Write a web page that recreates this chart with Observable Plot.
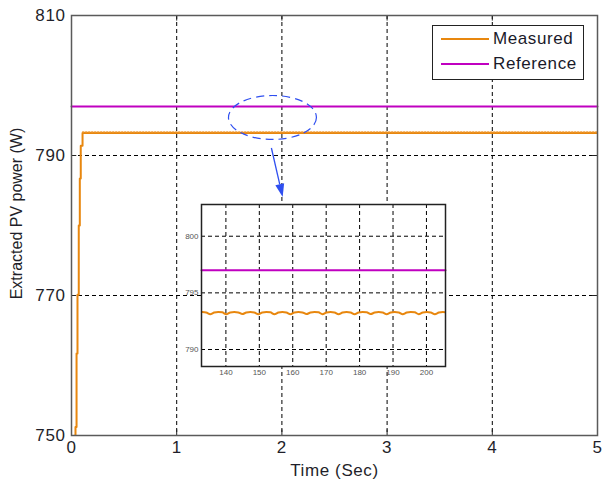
<!DOCTYPE html>
<html><head><meta charset="utf-8">
<script src="https://cdn.jsdelivr.net/npm/d3@7"></script>
<script src="https://cdn.jsdelivr.net/npm/@observablehq/plot@0.6"></script>
<style>
body{margin:0;background:#fff;}
#wrap{position:relative;width:602px;height:487px;font-family:"Liberation Sans",Arial,sans-serif;overflow:hidden;}
#main,#inset,#legend{position:absolute;}
#main{left:0;top:0;}
#inset{left:175px;top:200px;}
#legend{left:432px;top:25px;width:152px;height:55px;border:1px solid #222;background:#fff;box-sizing:border-box;}
.lrow{position:absolute;left:8px;height:20px;display:flex;align-items:center;font-size:17px;letter-spacing:0.6px;color:#1a1a2a;}
#main svg g[aria-label="x-axis tick label"] text, #main svg g[aria-label="y-axis tick label"] text, #main svg g[aria-label="x-axis label"] text{letter-spacing:0.6px;}
</style></head><body>
<div id="wrap"><div id="main"></div><div id="inset"></div><div id="legend"></div></div>
<script>
// ---- data ----
const timeTicks = [0, 1, 2, 3, 4, 5];
const powerTicks = [750, 770, 790, 810];
const seriesNames = ["Measured", "Reference"];
const seriesColors = ["#E8870E", "#C000C0"];

const measuredT = [0.033, 0.038, 0.048, 0.057, 0.069, 0.079, 0.088, 0.105, 5];
const measuredP = [750, 751.2, 761.7, 770.1, 780, 786.7, 791.4, 793.2, 793.2];
const referenceT = [0, 5];
const referenceP = [797, 797];

const insetT = [132.9,134.1,135.3,136.5,137.7,138.9,140.1,141.3,142.5,143.7,144.9,146.1,147.3,148.5,149.7,150.9,152.1,153.3,154.5,155.7,156.9,158.1,159.3,160.5,161.7,162.9,164.1,165.3,166.5,167.7,168.9,170.1,171.3,172.5,173.7,174.9,176.1,177.3,178.5,179.7,180.9,182.1,183.3,184.5,185.7,186.9,188.1,189.3,190.5,191.7,192.9,194.1,195.3,196.5,197.7,198.9,200.1,201.3,202.5,203.7,204.9,206.1];
const insetP = [793.30,793.27,793.12,793.26, 793.31,793.28,793.11,793.27, 793.30,793.27,793.13,793.26, 793.31,793.27,793.12,793.27,
  793.30,793.28,793.11,793.26, 793.31,793.27,793.12,793.27, 793.30,793.27,793.13,793.26, 793.31,793.28,793.12,793.27,
  793.30,793.27,793.11,793.26, 793.31,793.27,793.12,793.27, 793.30,793.28,793.13,793.26, 793.31,793.27,793.12,793.27,
  793.30,793.27,793.11,793.26, 793.31,793.28,793.12,793.27, 793.30,793.27,793.12,793.26, 793.31,793.28];
const insetRefT = [132.7, 205.7];
const insetRefP = [797, 797];
const insetXTicks = [140, 150, 160, 170, 180, 190, 200];
const insetYTicks = [790, 795, 800];

// annotation (data coords): ellipse centre/half-extent, arrow start/end
const ellipseT = [1.915], ellipseP = [795.36], ellipseHalfT = [0.418], ellipseHalfP = [3.14];
const arrowT = [1.905, 2.012], arrowP = [791.0, 784.0];

// ---- tables ----
const measured = measuredT.map((t, i) => ({t, p: measuredP[i]}));
const steady = measured.filter(d => d.t >= 0.105);
const reference = referenceT.map((t, i) => ({t, p: referenceP[i]}));
const insetM = insetT.map((t, i) => ({t, p: insetP[i]}));
const insetR = insetRefT.map((t, i) => ({t, p: insetRefP[i]}));

const font = "Liberation Sans, Arial, sans-serif";
const dash = "4,3";

function annotation(index, scales) {
  const {x, y} = scales;
  const g = d3.create("svg:g");
  const blue = "#2f4ff0";
  g.append("ellipse")
    .attr("cx", x(ellipseT[0])).attr("cy", y(ellipseP[0]))
    .attr("rx", x(ellipseT[0] + ellipseHalfT[0]) - x(ellipseT[0]))
    .attr("ry", y(ellipseP[0] - ellipseHalfP[0]) - y(ellipseP[0]))
    .attr("fill", "none").attr("stroke", blue).attr("stroke-width", 1.2).attr("stroke-dasharray", "8,5");
  const x1 = x(arrowT[0]), y1 = y(arrowP[0]), x2 = x(arrowT[1]), y2 = y(arrowP[1]);
  const a = Math.atan2(y2 - y1, x2 - x1), L = 13, W = 4.5;
  const bx = x2 - L * Math.cos(a), by = y2 - L * Math.sin(a);
  g.append("line").attr("x1", x1).attr("y1", y1).attr("x2", bx).attr("y2", by)
    .attr("stroke", blue).attr("stroke-width", 1.3);
  g.append("path")
    .attr("d", `M${x2},${y2}L${bx - W * Math.sin(a)},${by + W * Math.cos(a)}L${bx + W * Math.sin(a)},${by - W * Math.cos(a)}Z`)
    .attr("fill", blue);
  return g.node();
}

const main = Plot.plot({
  width: 602, height: 487,
  marginLeft: 71, marginRight: 5, marginTop: 15, marginBottom: 52,
  style: {fontFamily: font, fontSize: "17px", color: "#1f1f2a", background: "white", overflow: "visible"},
  x: {domain: [0, 5]},
  y: {domain: [750, 810]},
  marks: [
    Plot.gridX(timeTicks.slice(1, -1), {stroke: "#000", strokeOpacity: 1, strokeDasharray: dash}),
    Plot.gridY(powerTicks.slice(1, -1), {stroke: "#000", strokeOpacity: 1, strokeDasharray: dash}),
    Plot.ruleX(timeTicks, {y1: 750, y2: 750.8, stroke: "#222"}),
    Plot.ruleX(timeTicks, {y1: 809.2, y2: 810, stroke: "#222"}),
    Plot.ruleY(powerTicks, {x1: 0, x2: 0.05, stroke: "#222"}),
    Plot.ruleY(powerTicks, {x1: 4.95, x2: 5, stroke: "#222"}),
    Plot.axisX(timeTicks, {tickSize: 0, tickPadding: 5, tickFormat: d => d, label: "Time (Sec)", labelAnchor: "center", labelOffset: 40, labelArrow: "none"}),
    Plot.axisY(powerTicks, {tickSize: 0, tickPadding: 6, label: null}),
    Plot.text(["Extracted PV power (W)"], {frameAnchor: "left", textAnchor: "middle", dx: -55, dy: -12, rotate: -90, fontSize: 16, fill: "#1f1f2a"}),
    Plot.line(reference, {x: "t", y: "p", stroke: seriesColors[1], strokeWidth: 2}),
    Plot.line(measured, {x: "t", y: "p", stroke: seriesColors[0], strokeWidth: 2, curve: "step-after", clip: true}),
    Plot.line(steady, {x: "t", y: "p", dy: -1.3, stroke: "#F0A040", strokeWidth: 1.2, strokeDasharray: "1.5,1.5"}),
    annotation,
    Plot.frame({stroke: "#5a5a5a", strokeWidth: 1.5})
  ]
});
document.getElementById("main").append(main);

const inset = Plot.plot({
  width: 280, height: 185,
  marginLeft: 26, marginRight: 10, marginTop: 4, marginBottom: 19,
  style: {fontFamily: font, fontSize: "8px", color: "#555", background: "transparent", overflow: "visible"},
  x: {domain: [132.7, 205.7]},
  y: {domain: [788.5, 802.8]},
  marks: [
    Plot.frame({fill: "white"}),
    Plot.gridX(insetXTicks, {stroke: "#000", strokeOpacity: 1, strokeDasharray: dash}),
    Plot.gridY(insetYTicks, {stroke: "#000", strokeOpacity: 1, strokeDasharray: dash}),
    Plot.axisX(insetXTicks, {tickSize: 0, tickPadding: 3, label: null}),
    Plot.axisY(insetYTicks, {tickSize: 0, tickPadding: 3, label: null}),
    Plot.line(insetR, {x: "t", y: "p", stroke: seriesColors[1], strokeWidth: 2}),
    Plot.line(insetM, {x: "t", y: "p", stroke: seriesColors[0], strokeWidth: 2, curve: "monotone-x", clip: true}),
    Plot.frame({stroke: "#222", strokeWidth: 1.5})
  ]
});
document.getElementById("inset").append(inset);

const legend = document.getElementById("legend");
seriesNames.forEach((name, i) => {
  const row = document.createElement("div");
  row.className = "lrow";
  row.style.top = (3 + i * 25) + "px";
  row.innerHTML = `<svg width="48" height="20" style="margin-right:4px"><line x1="0" x2="48" y1="10" y2="10" stroke="${seriesColors[i]}" stroke-width="2"/></svg><span>${name}</span>`;
  legend.append(row);
});
</script>
</body></html>
